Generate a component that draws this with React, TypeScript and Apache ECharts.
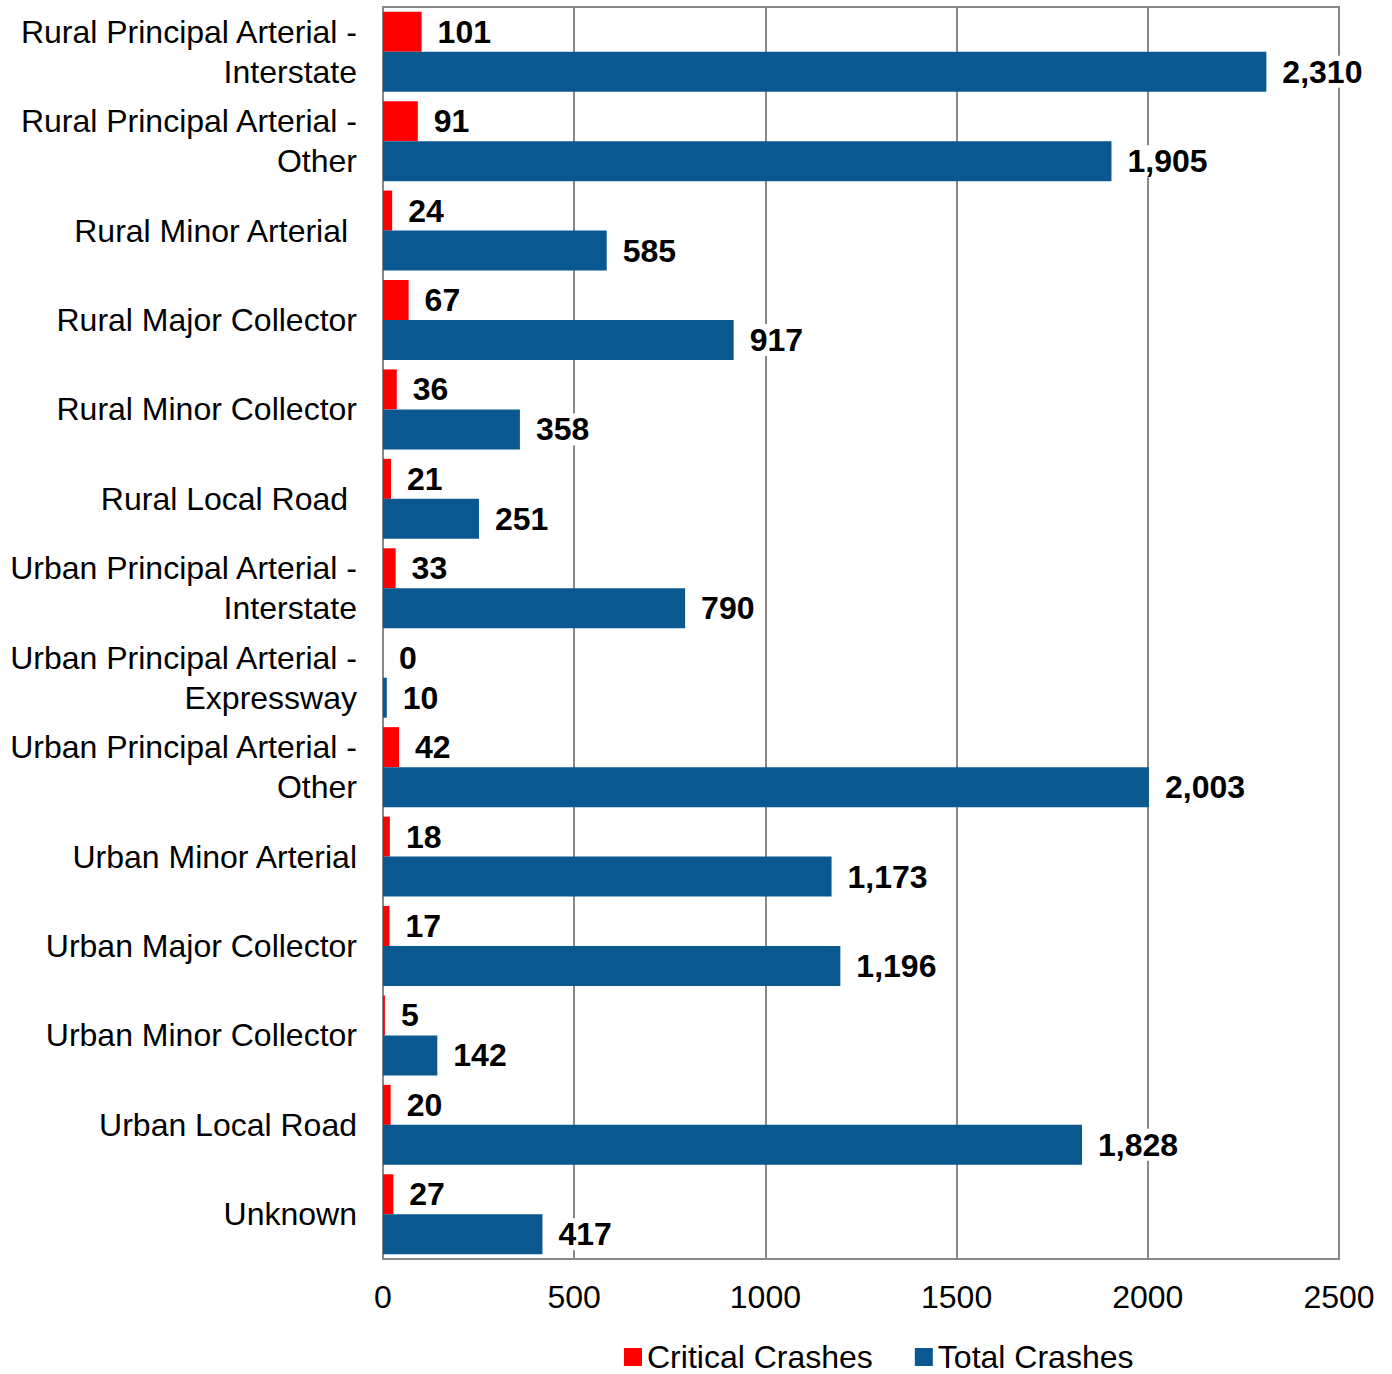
import React, { useEffect, useRef } from "react";
import * as echarts from "echarts";

const categories = [
  "Rural Principal Arterial -\nInterstate",
  "Rural Principal Arterial -\nOther",
  "Rural Minor Arterial ",
  "Rural Major Collector",
  "Rural Minor Collector",
  "Rural Local Road ",
  "Urban Principal Arterial -\nInterstate",
  "Urban Principal Arterial -\nExpressway",
  "Urban Principal Arterial -\nOther",
  "Urban Minor Arterial",
  "Urban Major Collector",
  "Urban Minor Collector",
  "Urban Local Road",
  "Unknown",
];
const criticalCrashes = [101, 91, 24, 67, 36, 21, 33, 0, 42, 18, 17, 5, 20, 27];
const totalCrashes = [2310, 1905, 585, 917, 358, 251, 790, 10, 2003, 1173, 1196, 142, 1828, 417];
const xTicks = { min: 0, max: 2500, interval: 500 };

const FONT = "'Liberation Sans', Arial, sans-serif";

export default function App() {
  const ref = useRef<HTMLDivElement>(null);
  useEffect(() => {
    if (!ref.current) return;
    const chart = echarts.init(ref.current, null, { renderer: "svg" });
    const valueLabel = {
      show: true,
      position: "right" as const,
      distance: 14,
      color: "#000",
      fontWeight: "bold" as const,
      fontSize: 32,
      fontFamily: FONT,
      backgroundColor: "#fff",
      padding: [0, 2, 0, 2],
      formatter: (p: any) => Number(p.value).toLocaleString("en-US"),
    };
    chart.setOption({
      animation: false,
      textStyle: { fontFamily: FONT },
      grid: {
        left: 383,
        right: 53,
        top: 7,
        bottom: 115,
        show: true,
        borderColor: "#888",
        borderWidth: 2,
        containLabel: false,
      },
      legend: {
        top: 1336,
        left: 619,
        itemWidth: 18,
        itemHeight: 18,
        itemGap: 42,
        icon: "rect",
        textStyle: { fontSize: 32, color: "#000", fontFamily: FONT },
        data: ["Critical Crashes", "Total Crashes"],
      },
      xAxis: {
        type: "value",
        min: xTicks.min,
        max: xTicks.max,
        interval: xTicks.interval,
        axisLine: { show: true, lineStyle: { color: "#888", width: 2 } },
        axisTick: { show: false },
        splitLine: { show: true, lineStyle: { color: "#888", width: 2 } },
        axisLabel: {
          fontSize: 32,
          color: "#000",
          margin: 22,
          fontFamily: FONT,
          formatter: (v: number) => String(v),
        },
      },
      yAxis: {
        type: "category",
        inverse: true,
        data: categories,
        axisLine: { show: true, lineStyle: { color: "#888", width: 2 } },
        axisTick: { show: false },
        axisLabel: {
          fontSize: 32,
          color: "#000",
          margin: 26,
          lineHeight: 40,
          align: "right",
          fontFamily: FONT,
          interval: 0,
          padding: [3, 0, 0, 0],
        },
      },
      series: [
        {
          name: "Critical Crashes",
          type: "bar",
          data: criticalCrashes,
          barWidth: 40,
          barGap: "0%",
          itemStyle: { color: "#ff0000" },
          label: valueLabel,
          z: 3,
        },
        {
          name: "Total Crashes",
          type: "bar",
          data: totalCrashes,
          barWidth: 40,
          barGap: "0%",
          itemStyle: { color: "#0b5891" },
          label: valueLabel,
          z: 3,
        },
      ],
    });
    return () => chart.dispose();
  }, []);
  return <div ref={ref} style={{ width: 1392, height: 1374, position: "absolute", left: 0, top: 0 }} />;
}
